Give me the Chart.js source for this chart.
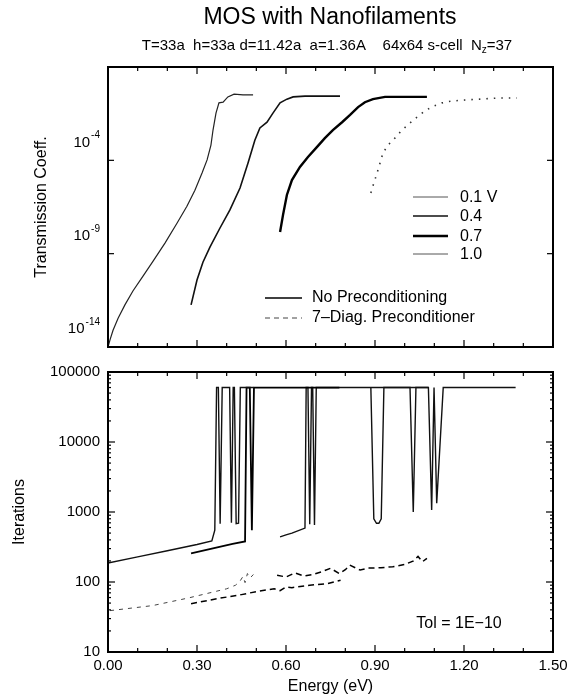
<!DOCTYPE html>
<html>
<head>
<meta charset="utf-8">
<script src="https://cdn.jsdelivr.net/npm/chart.js@4.4.0/dist/chart.umd.min.js"></script>
<style>
  html, body { margin: 0; padding: 0; background: #fff; }
  #wrap { position: relative; width: 569px; height: 699px; }
  canvas { position: absolute; left: 0; }
  #top { top: 0; }
  #bottom { top: 360px; }
</style>
</head>
<body>
<div id="wrap">
  <canvas id="top" width="569" height="360"></canvas>
  <canvas id="bottom" width="569" height="339"></canvas>
</div>
<script>
// ---- data ----

// axis ticks
const energyTicks = [0, 0.3, 0.6, 0.9, 1.2, 1.5];
const energyLabels = ["0.00", "0.30", "0.60", "0.90", "1.20", "1.50"];
const transLabelExp = [-4, -9, -14];
const transTickMarks = [1e-5, 1e-10];
const iterTicks = [10, 100, 1000, 10000, 100000];
const iterLabels = ["10", "100", "1000", "10000", "100000"];

// top panel: transmission coefficient vs energy
const voltages = ["0.1 V", "0.4", "0.7", "1.0"];

const e01 = [0, 0.007, 0.017, 0.034, 0.057, 0.084, 0.118, 0.152, 0.192, 0.233, 0.266, 0.293, 0.317, 0.334, 0.347, 0.354, 0.364, 0.374, 0.388, 0.404, 0.425, 0.455, 0.489];
const t01 = [1e-15, 2.5e-15, 7.9e-15, 3.5e-14, 1.8e-13, 1e-12, 6.3e-12, 4e-11, 3.7e-10, 4.4e-9, 3.5e-8, 2.5e-7, 2.1e-6, 1.05e-5, 6.6e-5, 4.2e-4, 3.4e-3, 1.2e-2, 1.3e-2, 2.5e-2, 3.5e-2, 3.2e-2, 3.2e-2];

const e04 = [0.28, 0.30, 0.32, 0.344, 0.377, 0.411, 0.445, 0.472, 0.495, 0.512, 0.536, 0.556, 0.58, 0.603, 0.624, 0.664, 0.715, 0.782];
const t04 = [1.8e-13, 3.9e-12, 3.5e-11, 2.3e-10, 2.3e-9, 2.2e-8, 3.3e-7, 7.2e-6, 1.2e-4, 5.4e-4, 1.1e-3, 3.4e-3, 1.2e-2, 1.9e-2, 2.5e-2, 2.75e-2, 2.75e-2, 2.75e-2];

const e07 = [0.58, 0.59, 0.603, 0.62, 0.647, 0.674, 0.704, 0.731, 0.758, 0.789, 0.816, 0.843, 0.866, 0.893, 0.934, 0.984, 1.075];
const t07 = [1.45e-9, 1.2e-8, 1.4e-7, 8.7e-7, 4.4e-6, 1.5e-5, 5.1e-5, 1.55e-4, 4.2e-4, 1.1e-3, 2.7e-3, 7.1e-3, 1.3e-2, 1.9e-2, 2.5e-2, 2.5e-2, 2.5e-2];

const e10 = [0.886, 0.896, 0.907, 0.917, 0.927, 0.944, 0.967, 0.991, 1.018, 1.045, 1.072, 1.099, 1.126, 1.159, 1.203, 1.254, 1.321, 1.378];
const t10 = [1.8e-7, 6e-7, 2.1e-6, 7.2e-6, 2.5e-5, 6.6e-5, 1.55e-4, 4.2e-4, 1e-3, 2.3e-3, 4.9e-3, 8.1e-3, 1.2e-2, 1.5e-2, 1.7e-2, 1.9e-2, 2.2e-2, 2.2e-2];

// bottom panel: iterations, no preconditioning (solid)
const n01E = [0, 0.1, 0.2, 0.3, 0.35, 0.36, 0.366, 0.372, 0.378, 0.385, 0.41, 0.416, 0.422, 0.426, 0.432, 0.44, 0.446, 0.452, 0.49];
const n01 = [187, 229, 280, 343, 385, 550, 60000, 60000, 680, 60000, 60000, 700, 60000, 60000, 680, 690, 60000, 60000, 60000];

const n04E = [0.28, 0.35, 0.42, 0.462, 0.467, 0.478, 0.485, 0.492, 0.5, 0.78];
const n04 = [257, 300, 350, 380, 60000, 60000, 550, 60000, 60000, 60000];

const n07E = [0.58, 0.6, 0.62, 0.664, 0.668, 0.674, 0.68, 0.686, 0.69, 0.696, 0.702, 1.08];
const n07 = [440, 470, 500, 590, 60000, 60000, 670, 60000, 60000, 650, 60000, 60000];

const n10E = [0.886, 0.896, 0.905, 0.913, 0.921, 0.93, 1.018, 1.029, 1.038, 1.08, 1.091, 1.099, 1.108, 1.13, 1.374];
const n10 = [60000, 800, 690, 690, 800, 60000, 60000, 1000, 60000, 60000, 1070, 60000, 1330, 60000, 60000];

// bottom panel: iterations, 7-diag. preconditioner (dashed)
const p01E = [0.007, 0.15, 0.27, 0.4, 0.43, 0.445, 0.455, 0.462, 0.47, 0.48, 0.49];
const p01 = [39, 46, 59, 80, 90, 103, 120, 98, 132, 115, 128];

const p04E = [0.28, 0.37, 0.45, 0.5, 0.56, 0.58, 0.6, 0.62, 0.68, 0.74, 0.784];
const p04 = [49, 58, 66, 73, 80, 75, 85, 83, 90, 95, 106];

const p07E = [0.57, 0.6, 0.63, 0.66, 0.69, 0.72, 0.75, 0.78, 0.8, 0.815, 0.85, 0.88, 0.92, 0.96, 1.0, 1.03, 1.045, 1.06, 1.075];
const p07 = [125, 118, 135, 122, 128, 140, 157, 132, 150, 174, 148, 158, 160, 165, 178, 200, 232, 195, 218];

// ---- helpers ----

const FONT = '"Liberation Sans", Arial, Helvetica, sans-serif';

function pts(xs, ys) {
  return xs.map((x, i) => ({ x: x, y: ys[i] }));
}

function seg(ctx, x1, y1, x2, y2) {
  ctx.beginPath();
  ctx.moveTo(x1, y1);
  ctx.lineTo(x2, y2);
  ctx.stroke();
}

function drawFrame(chart) {
  const { ctx, chartArea: a, scales: { x } } = chart;
  ctx.save();
  ctx.strokeStyle = "#000";
  ctx.lineWidth = 2;
  ctx.strokeRect(a.left, a.top, a.right - a.left, a.bottom - a.top);
  ctx.lineWidth = 1.2;
  // energy ticks every 0.1, longer every 0.3
  for (let i = 0; i <= 15; i++) {
    const px = x.getPixelForValue(i / 10);
    const len = i % 3 === 0 ? 7 : 4;
    seg(ctx, px, a.bottom, px, a.bottom - len);
    seg(ctx, px, a.top, px, a.top + len);
  }
  ctx.restore();
}

function baseOptions(yMin, yMax, pad) {
  return {
    responsive: false,
    animation: false,
    layout: { padding: pad },
    plugins: {
      legend: { display: false },
      tooltip: { enabled: false },
      title: { display: false }
    },
    scales: {
      x: { type: "linear", min: 0, max: 1.5, display: false },
      y: { type: "logarithmic", min: yMin, max: yMax, display: false }
    },
    elements: { point: { radius: 0 }, line: { tension: 0 } }
  };
}

// ---- top chart: transmission ----

const topDecor = {
  id: "topDecor",
  afterDraw(chart) {
    const { ctx, chartArea: a, scales: { y } } = chart;
    drawFrame(chart);
    ctx.save();
    ctx.fillStyle = "#000";
    ctx.strokeStyle = "#000";
    ctx.lineWidth = 1.2;

    // log y ticks
    transTickMarks.forEach(v => {
      const py = y.getPixelForValue(v);
      seg(ctx, a.left, py, a.left + 6, py);
      seg(ctx, a.right, py, a.right - 6, py);
    });

    // 10^n labels
    ctx.textBaseline = "middle";
    ctx.textAlign = "left";
    transLabelExp.forEach(n => {
      const py = y.getPixelForValue(Math.pow(10, n));
      ctx.font = "10px " + FONT;
      const sup = String(n);
      const ws = ctx.measureText(sup).width;
      const xr = a.left - 8;
      ctx.fillText(sup, xr - ws, py - 6);
      ctx.font = "15px " + FONT;
      const wb = ctx.measureText("10").width;
      ctx.fillText("10", xr - ws - wb - 1, py + 1);
    });

    // title + subtitle
    ctx.textAlign = "center";
    ctx.font = "23px " + FONT;
    ctx.fillText("MOS with Nanofilaments", 330, 18);
    ctx.font = "15px " + FONT;
    const parts = ["T=33a  h=33a d=11.42a  a=1.36A    64x64 s-cell  N", "z", "=37"];
    ctx.textAlign = "left";
    const w0 = ctx.measureText(parts[0]).width;
    ctx.font = "10px " + FONT;
    const w1 = ctx.measureText(parts[1]).width;
    ctx.font = "15px " + FONT;
    const w2 = ctx.measureText(parts[2]).width;
    let sx = 327 - (w0 + w1 + w2) / 2;
    const sy = 46;
    ctx.fillText(parts[0], sx, sy);
    ctx.font = "10px " + FONT;
    ctx.fillText(parts[1], sx + w0, sy + 4);
    ctx.font = "15px " + FONT;
    ctx.fillText(parts[2], sx + w0 + w1, sy);

    // y axis title
    ctx.save();
    ctx.translate(42, (a.top + a.bottom) / 2);
    ctx.rotate(-Math.PI / 2);
    ctx.textAlign = "center";
    ctx.font = "16px " + FONT;
    ctx.fillText("Transmission Coeff.", 0, 0);
    ctx.restore();

    // voltage legend
    const volStyle = [
      { w: 1, c: "#555", y: 197 },
      { w: 1.6, c: "#111", y: 216 },
      { w: 2.4, c: "#000", y: 236 },
      { w: 1, c: "#555", y: 254 }
    ];
    ctx.font = "16px " + FONT;
    ctx.textAlign = "left";
    voltages.forEach((lab, i) => {
      const s = volStyle[i];
      ctx.lineWidth = s.w;
      ctx.strokeStyle = s.c;
      seg(ctx, 413, s.y, 448, s.y);
      ctx.fillText(lab, 460, s.y + 1);
    });

    // method legend
    ctx.strokeStyle = "#000";
    ctx.lineWidth = 1.4;
    seg(ctx, 265, 298, 302, 298);
    ctx.fillText("No Preconditioning", 312, 298);
    ctx.setLineDash([5, 4]);
    ctx.lineWidth = 1;
    ctx.strokeStyle = "#444";
    seg(ctx, 265, 318, 302, 318);
    ctx.setLineDash([]);
    ctx.fillText("7\u2013Diag. Preconditioner", 312, 318);
    ctx.restore();
  }
};

new Chart(document.getElementById("top"), {
  type: "line",
  data: {
    datasets: [
      { data: pts(e01, t01), borderColor: "#222", borderWidth: 1.2, fill: false },
      { data: pts(e04, t04), borderColor: "#111", borderWidth: 1.6, fill: false },
      { data: pts(e07, t07), borderColor: "#000", borderWidth: 2.4, fill: false },
      { data: pts(e10, t10), borderColor: "#333", borderWidth: 1.6, borderDash: [1.5, 6], fill: false }
    ]
  },
  options: baseOptions(1e-15, 1, { left: 108, top: 67, right: 16, bottom: 13 }),
  plugins: [topDecor]
});

// ---- bottom chart: iterations ----

const bottomDecor = {
  id: "bottomDecor",
  afterDraw(chart) {
    const { ctx, chartArea: a, scales: { x, y } } = chart;
    drawFrame(chart);
    ctx.save();
    ctx.fillStyle = "#000";
    ctx.strokeStyle = "#000";
    ctx.lineWidth = 1.2;

    // log ticks, majors and minors on both sides
    for (let d = 1; d < 5; d++) {
      for (let m = 1; m < 10; m++) {
        const v = m * Math.pow(10, d);
        const py = y.getPixelForValue(v);
        const len = m === 1 ? 7 : 3;
        seg(ctx, a.left, py, a.left + len, py);
        seg(ctx, a.right, py, a.right - len, py);
      }
    }

    ctx.font = "15px " + FONT;
    ctx.textBaseline = "middle";
    ctx.textAlign = "right";
    iterTicks.forEach((v, i) => {
      ctx.fillText(iterLabels[i], a.left - 8, y.getPixelForValue(v));
    });
    ctx.textAlign = "center";
    energyTicks.forEach((v, i) => {
      ctx.fillText(energyLabels[i], x.getPixelForValue(v), a.bottom + 14);
    });

    ctx.font = "16px " + FONT;
    ctx.fillText("Energy (eV)", (a.left + a.right) / 2, a.bottom + 35);
    ctx.fillText("Tol = 1E\u221210", 459, 264);

    ctx.save();
    ctx.translate(20, (a.top + a.bottom) / 2);
    ctx.rotate(-Math.PI / 2);
    ctx.fillText("Iterations", 0, 0);
    ctx.restore();
    ctx.restore();
  }
};

new Chart(document.getElementById("bottom"), {
  type: "line",
  data: {
    datasets: [
      { data: pts(n01E, n01), borderColor: "#111", borderWidth: 1.4, fill: false },
      { data: pts(n04E, n04), borderColor: "#000", borderWidth: 1.8, fill: false },
      { data: pts(n07E, n07), borderColor: "#111", borderWidth: 1.4, fill: false },
      { data: pts(n10E, n10), borderColor: "#111", borderWidth: 1.4, fill: false },
      { data: pts(p01E, p01), borderColor: "#444", borderWidth: 1, borderDash: [4, 5], fill: false },
      { data: pts(p04E, p04), borderColor: "#000", borderWidth: 1.5, borderDash: [6, 4], fill: false },
      { data: pts(p07E, p07), borderColor: "#000", borderWidth: 1.5, borderDash: [6, 4], fill: false }
    ]
  },
  options: baseOptions(10, 100000, { left: 108, top: 12, right: 16, bottom: 47 }),
  plugins: [bottomDecor]
});
</script>
</body>
</html>
